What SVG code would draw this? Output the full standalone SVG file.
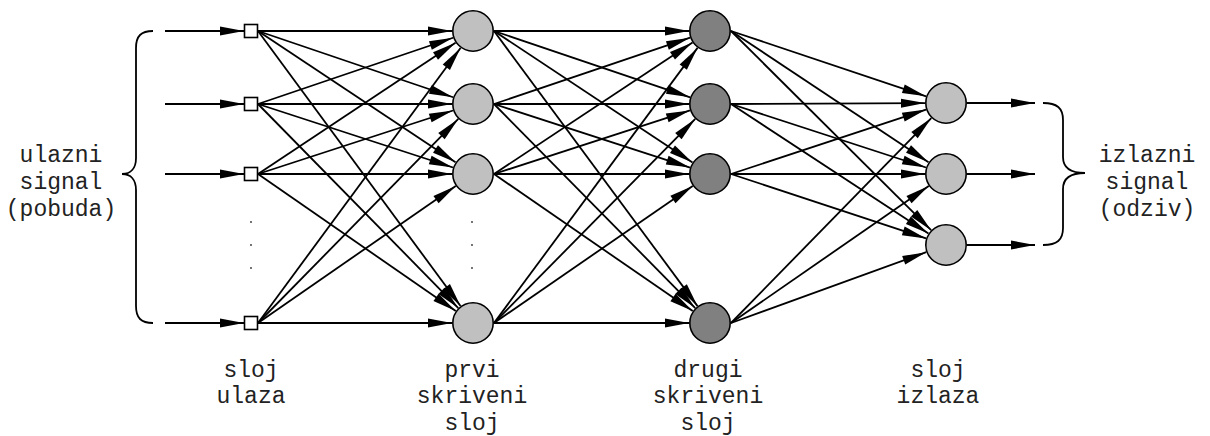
<svg xmlns="http://www.w3.org/2000/svg" width="1210" height="436" viewBox="0 0 1210 436">
<style>
.c{stroke:#000;stroke-width:1.8;fill:none}
.a{marker-end:url(#ah)}
.n1{fill:#c0c0c0;stroke:#000;stroke-width:1.6}
.n2{fill:#808080;stroke:#000;stroke-width:1.6}
.sq{fill:#fff;stroke:#000;stroke-width:1.6}
.br{fill:none;stroke:#000;stroke-width:1.8}
.t{font-family:"Liberation Mono","Courier New",monospace;font-size:23px;fill:#222;text-anchor:middle}
.dot{fill:#333}
</style>
<defs>
<marker id="ah" markerUnits="userSpaceOnUse" markerWidth="24" markerHeight="9" refX="24" refY="4.5" orient="auto" overflow="visible">
<path d="M0,0 L24,4.5 L0,9 z" fill="#000"/>
</marker>
</defs>
<g id="connectors" class="c">
<line class="a" x1="165" y1="31" x2="244" y2="31"/>
<line class="a" x1="165" y1="104" x2="244" y2="104"/>
<line class="a" x1="165" y1="174" x2="244" y2="174"/>
<line class="a" x1="165" y1="323" x2="244" y2="323"/>
<line class="a" x1="258" y1="31" x2="452" y2="31"/>
<line class="a" x1="258" y1="31" x2="453.12" y2="97.25"/>
<line class="a" x1="258" y1="31" x2="455.51" y2="162.37"/>
<line class="a" x1="258" y1="31" x2="460.55" y2="306.09"/>
<line class="a" x1="258" y1="104" x2="453.12" y2="37.75"/>
<line class="a" x1="258" y1="104" x2="452" y2="104"/>
<line class="a" x1="258" y1="104" x2="453.03" y2="167.5"/>
<line class="a" x1="258" y1="104" x2="458.29" y2="308.01"/>
<line class="a" x1="258" y1="174" x2="455.51" y2="42.63"/>
<line class="a" x1="258" y1="174" x2="453.03" y2="110.5"/>
<line class="a" x1="258" y1="174" x2="452" y2="174"/>
<line class="a" x1="258" y1="174" x2="455.74" y2="311.04"/>
<line class="a" x1="258" y1="323" x2="460.55" y2="47.91"/>
<line class="a" x1="258" y1="323" x2="458.29" y2="118.99"/>
<line class="a" x1="258" y1="323" x2="455.74" y2="185.96"/>
<line class="a" x1="258" y1="323" x2="452" y2="323"/>
<line class="a" x1="494" y1="31" x2="689" y2="31"/>
<line class="a" x1="494" y1="31" x2="690.11" y2="97.28"/>
<line class="a" x1="494" y1="31" x2="692.49" y2="162.41"/>
<line class="a" x1="494" y1="31" x2="697.51" y2="306.12"/>
<line class="a" x1="494" y1="104" x2="690.11" y2="37.72"/>
<line class="a" x1="494" y1="104" x2="689" y2="104"/>
<line class="a" x1="494" y1="104" x2="690.02" y2="167.53"/>
<line class="a" x1="494" y1="104" x2="695.25" y2="308.05"/>
<line class="a" x1="494" y1="174" x2="692.49" y2="42.59"/>
<line class="a" x1="494" y1="174" x2="690.02" y2="110.47"/>
<line class="a" x1="494" y1="174" x2="689" y2="174"/>
<line class="a" x1="494" y1="174" x2="692.71" y2="311.08"/>
<line class="a" x1="494" y1="323" x2="697.51" y2="47.88"/>
<line class="a" x1="494" y1="323" x2="695.25" y2="118.95"/>
<line class="a" x1="494" y1="323" x2="692.71" y2="185.92"/>
<line class="a" x1="494" y1="323" x2="689" y2="323"/>
<line class="a" x1="731" y1="31" x2="926.09" y2="96.33"/>
<line class="a" x1="731" y1="31" x2="928.51" y2="162.37"/>
<line class="a" x1="731" y1="31" x2="931.12" y2="230.19"/>
<line class="a" x1="731" y1="104" x2="925" y2="103.1"/>
<line class="a" x1="731" y1="104" x2="926.03" y2="167.5"/>
<line class="a" x1="731" y1="104" x2="928.44" y2="233.48"/>
<line class="a" x1="731" y1="174" x2="926.06" y2="109.59"/>
<line class="a" x1="731" y1="174" x2="925" y2="174"/>
<line class="a" x1="731" y1="174" x2="926.06" y2="238.41"/>
<line class="a" x1="731" y1="323" x2="931.32" y2="118.02"/>
<line class="a" x1="731" y1="323" x2="928.74" y2="185.96"/>
<line class="a" x1="731" y1="323" x2="926.26" y2="252.16"/>
<line class="a" x1="967" y1="103" x2="1035" y2="103"/>
<line class="a" x1="967" y1="174" x2="1035" y2="174"/>
<line class="a" x1="967" y1="245" x2="1035" y2="245"/>
</g>
<g id="input-brace">
<path class="br" d="M153,31 C141,31 136,36 136,48 L136,158 C136,168 131,174 122,174 C131,174 136,180 136,190 L136,306 C136,318 141,323 153,323"/>
<text class="t" x="61" y="162">ulazni</text>
<text class="t" x="61" y="189">signal</text>
<text class="t" x="61" y="216">(pobuda)</text>
</g>
<g id="output-brace">
<path class="br" d="M1043,103 C1057,103 1063,108 1063,120 L1063,157 C1063,168 1071,173 1085,173 C1071,173 1063,178 1063,189 L1063,228 C1063,240 1057,245 1043,245"/>
<text class="t" x="1147" y="162">izlazni</text>
<text class="t" x="1147" y="189">signal</text>
<text class="t" x="1147" y="216">(odziv)</text>
</g>
<g id="input-layer">
<rect class="sq" x="244.5" y="24.5" width="13" height="13"/>
<rect class="sq" x="244.5" y="97.5" width="13" height="13"/>
<rect class="sq" x="244.5" y="167.5" width="13" height="13"/>
<rect class="sq" x="244.5" y="316.5" width="13" height="13"/>
<circle class="dot" cx="251" cy="222" r="0.9"/>
<circle class="dot" cx="251" cy="245" r="0.9"/>
<circle class="dot" cx="251" cy="268" r="0.9"/>
</g>
<g id="hidden-layer-1">
<circle class="n1" cx="473" cy="31" r="20.2"/>
<circle class="n1" cx="473" cy="104" r="20.2"/>
<circle class="n1" cx="473" cy="174" r="20.2"/>
<circle class="n1" cx="473" cy="323" r="20.2"/>
<circle class="dot" cx="472" cy="222" r="0.9"/>
<circle class="dot" cx="472" cy="245" r="0.9"/>
<circle class="dot" cx="472" cy="268" r="0.9"/>
</g>
<g id="hidden-layer-2">
<circle class="n2" cx="710" cy="31" r="20.2"/>
<circle class="n2" cx="710" cy="104" r="20.2"/>
<circle class="n2" cx="710" cy="174" r="20.2"/>
<circle class="n2" cx="710" cy="323" r="20.2"/>
</g>
<g id="output-layer">
<circle class="n1" cx="946" cy="103" r="20.2"/>
<circle class="n1" cx="946" cy="174" r="20.2"/>
<circle class="n1" cx="946" cy="245" r="20.2"/>
</g>
<g id="labels">
<text class="t" x="251" y="377">sloj</text>
<text class="t" x="251" y="403">ulaza</text>
<text class="t" x="472" y="377">prvi</text>
<text class="t" x="472" y="403">skriveni</text>
<text class="t" x="472" y="430">sloj</text>
<text class="t" x="708" y="377">drugi</text>
<text class="t" x="708" y="403">skriveni</text>
<text class="t" x="708" y="430">sloj</text>
<text class="t" x="938" y="377">sloj</text>
<text class="t" x="938" y="403">izlaza</text>
</g>
</svg>
